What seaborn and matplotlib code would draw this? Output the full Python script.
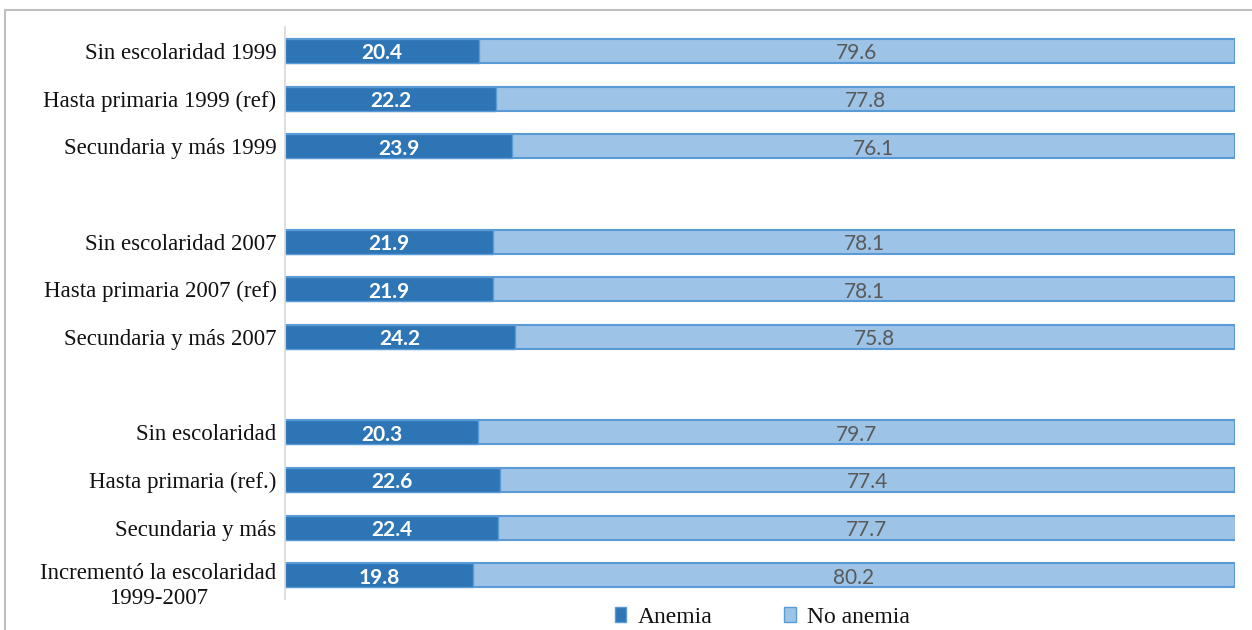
import matplotlib
matplotlib.use("Agg")
import matplotlib.pyplot as plt
from matplotlib.patches import Rectangle, Patch
import seaborn as sns
import pandas as pd

# Row labels (blank entries leave a gap between the groups)
categories = [
    "Sin escolaridad 1999",
    "Hasta primaria 1999 (ref)",
    "Secundaria y más 1999",
    "",
    "Sin escolaridad 2007",
    "Hasta primaria 2007 (ref)",
    "Secundaria y más 2007",
    " ",
    "Sin escolaridad",
    "Hasta primaria (ref.)",
    "Secundaria y más",
    "Incrementó la escolaridad\n1999-2007",
]
groups = [c for c in categories if c.strip()]
anemia = [20.4, 22.2, 23.9, 21.9, 21.9, 24.2, 20.3, 22.6, 22.4, 19.8]
no_anemia = [79.6, 77.8, 76.1, 78.1, 78.1, 75.8, 79.7, 77.4, 77.7, 80.2]

df = pd.DataFrame({"grupo": groups, "Anemia": anemia, "No anemia": no_anemia})
df["total"] = df["Anemia"] + df["No anemia"]

dark = "#2E75B6"
light = "#9DC3E6"
edge = "#5B9BD5"

sns.set_theme(style="white")
plt.rcParams["font.family"] = ["Liberation Serif", "DejaVu Serif"]

fig = plt.figure(figsize=(12.52, 6.30), dpi=100)
ax = fig.add_axes([0.2276, 0.049, 0.7588, 0.908])

# Stacked bars: full length in light blue, anemia share drawn over it
sns.barplot(data=df, x="total", y="grupo", order=categories, orient="h",
            color=light, saturation=1, width=0.5, edgecolor=edge,
            linewidth=1.5, ax=ax)
sns.barplot(data=df, x="Anemia", y="grupo", order=categories, orient="h",
            color=dark, saturation=1, width=0.5, edgecolor=edge,
            linewidth=1.0, ax=ax)

pos = {c: i for i, c in enumerate(categories)}
for _, r in df.iterrows():
    y = pos[r["grupo"]] + 0.05
    ax.text(r["Anemia"] / 2, y, f"{r['Anemia']:.1f}", ha="center",
            va="center", color="white", fontsize=15, fontweight="bold",
            family=["Lato", "DejaVu Sans"])
    ax.text(r["Anemia"] + r["No anemia"] / 2, y, f"{r['No anemia']:.1f}",
            ha="center", va="center", color="#595959", fontsize=15,
            family=["Lato", "DejaVu Sans"])

ax.set_xlim(0, 100)
ax.set_ylim(11.5, -0.5)
ax.set_xlabel("")
ax.set_ylabel("")
ax.set_xticks([])
ax.tick_params(axis="y", length=0, pad=6, labelsize=16.5, labelcolor="#111111")

# The two-line label starts level with its bar and runs below it
last = categories[-1]
ax.set_yticklabels([c if c != last else "" for c in categories])
ax.annotate(last, xy=(0, pos[last]), xycoords=("axes fraction", "data"),
            xytext=(-6, 8.5), textcoords="offset points", ha="right",
            va="top", multialignment="center", fontsize=16.5,
            color="#111111", linespacing=1.25)

for s in ["top", "right", "bottom"]:
    ax.spines[s].set_visible(False)
ax.spines["left"].set_color("#D9D9D9")
ax.spines["left"].set_linewidth(1.2)

handles = [Patch(facecolor=dark, edgecolor=edge, label="Anemia"),
           Patch(facecolor=light, edgecolor=edge, label="No anemia")]
fig.legend(handles=handles, loc="center", bbox_to_anchor=(0.609, 0.02),
           ncol=2, frameon=False, fontsize=17, handlelength=0.5,
           handleheight=0.6, columnspacing=3.0, handletextpad=0.5,
           labelcolor="#111111")

# Outer frame of the chart area
fig.patches.append(Rectangle((5 / 1252, -0.01), 1.0, 1 - 10 / 630 + 0.01,
                             transform=fig.transFigure, fill=False,
                             edgecolor="#BFBFBF", linewidth=1.5))

fig.savefig("out.png", dpi=100)
